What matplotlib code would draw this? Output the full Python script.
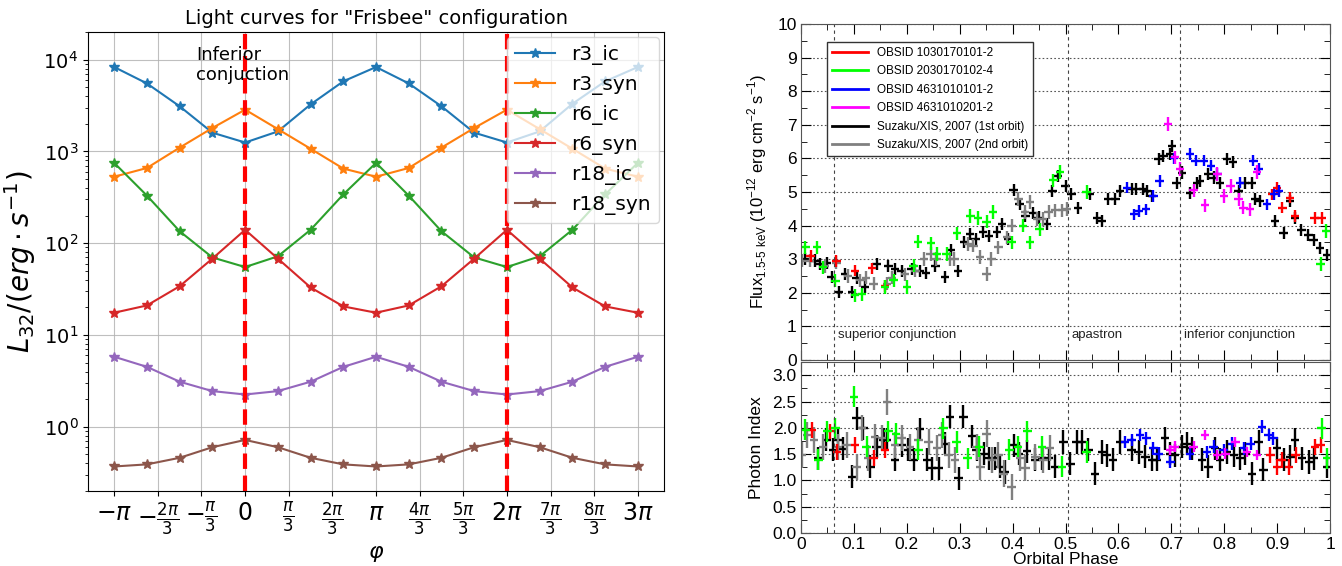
import numpy as np
import matplotlib
matplotlib.use('Agg')
import matplotlib.pyplot as plt
from matplotlib.lines import Line2D
from matplotlib.ticker import MultipleLocator, LogLocator

# ---------------- left panel: light curves ----------------
quarters = [-4, -3, -2, -1, 0, 1, 2, 3, 4, 5, 6, 7, 8, 9, 10, 11, 12]  # phi in units of pi/4
r3_ic = [8300, 5500, 3100, 1600, 1250, 1650, 3250, 5800, 8300, 5500, 3100, 1600, 1250, 1650, 3300, 5800, 8300]
r3_syn = [530, 660, 1100, 1800, 2850, 1750, 1070, 650, 530, 660, 1100, 1800, 2850, 1750, 1070, 650, 530]
r6_ic = [750, 330, 135, 70, 55, 72, 140, 340, 750, 330, 135, 70, 55, 72, 140, 340, 750]
r6_syn = [17.5, 21, 34, 68, 140, 68, 33, 20.5, 17.5, 21, 34, 68, 140, 68, 33, 20.5, 17.5]
r18_ic = [5.8, 4.5, 3.1, 2.45, 2.25, 2.45, 3.1, 4.5, 5.8, 4.5, 3.1, 2.45, 2.25, 2.45, 3.1, 4.5, 5.8]
r18_syn = [0.37, 0.39, 0.46, 0.6, 0.72, 0.6, 0.46, 0.39, 0.37, 0.39, 0.46, 0.6, 0.72, 0.6, 0.46, 0.39, 0.37]
series_names = ['r3_ic', 'r3_syn', 'r6_ic', 'r6_syn', 'r18_ic', 'r18_syn']

tick_thirds = [-3, -2, -1, 0, 1, 2, 3, 4, 5, 6, 7, 8, 9]
tick_labels = [r'$-\pi$', r'$-\frac{2\pi}{3}$', r'$-\frac{\pi}{3}$', r'$0$', r'$\frac{\pi}{3}$',
               r'$\frac{2\pi}{3}$', r'$\pi$', r'$\frac{4\pi}{3}$', r'$\frac{5\pi}{3}$', r'$2\pi$',
               r'$\frac{7\pi}{3}$', r'$\frac{8\pi}{3}$', r'$3\pi$']

# ---------------- right panel: X-ray data ----------------
blk_ph = [0.008, 0.026, 0.036, 0.049, 0.058, 0.071, 0.083, 0.096, 0.105, 0.121, 0.143, 0.165, 0.178, 0.19,
          0.209, 0.225, 0.236, 0.254, 0.272, 0.283, 0.297, 0.308, 0.319, 0.33, 0.344, 0.355, 0.37, 0.38,
          0.391, 0.402, 0.413, 0.424, 0.438, 0.449, 0.464, 0.475, 0.486, 0.5, 0.511, 0.524, 0.546, 0.559,
          0.568, 0.581, 0.594, 0.603, 0.625, 0.634, 0.647, 0.654, 0.663, 0.676, 0.685, 0.698, 0.701, 0.71,
          0.72, 0.735, 0.748, 0.754, 0.77, 0.78, 0.792, 0.805, 0.817, 0.827, 0.839, 0.852, 0.858, 0.868,
          0.896, 0.912, 0.924, 0.934, 0.946, 0.959, 0.969, 0.981, 0.994]
blk_flux = [3.0, 2.96, 2.86, 2.88, 2.47, 2.02, 2.56, 2.02, 2.45, 2.17, 2.86, 2.81, 2.71, 2.66,
            2.71, 2.66, 2.6, 2.8, 2.48, 3.28, 2.64, 3.5, 3.75, 3.6, 3.8, 3.7, 3.8, 4.05,
            3.6, 5.07, 4.63, 4.28, 4.38, 4.24, 4.04, 5.02, 5.47, 5.17, 4.93, 4.53, 4.93, 4.23,
            4.13, 4.78, 4.78, 5.03, 5.08, 5.08, 5.08, 5.03, 4.88, 5.98, 6.08, 6.13, 6.38, 5.28,
            5.58, 4.98, 5.28, 5.33, 5.53, 5.43, 5.28, 5.98, 5.88, 5.03, 5.28, 5.28, 4.78, 4.73,
            4.13, 3.78, 4.73, 4.23, 3.88, 3.73, 3.58, 3.33, 3.13]
gry_ph = [0.001, 0.017, 0.045, 0.067, 0.089, 0.112, 0.123, 0.137, 0.162, 0.172, 0.197, 0.216, 0.232, 0.245,
          0.256, 0.282, 0.29, 0.316, 0.326, 0.338, 0.351, 0.36, 0.373, 0.389, 0.398, 0.411, 0.423, 0.433,
          0.446, 0.457, 0.468, 0.481, 0.493, 0.502]
gry_flux = [2.96, 2.96, 2.8, 2.9, 2.5, 2.37, 2.45, 2.27, 2.27, 2.45, 2.55, 2.66, 3.0, 3.15,
            3.0, 3.0, 3.0, 3.45, 3.4, 3.06, 2.56, 3.0, 3.35, 3.65, 4.0, 4.79, 4.4, 4.7,
            4.2, 4.19, 4.4, 4.45, 4.45, 4.5]
grn_ph = [0.008, 0.03, 0.042, 0.065, 0.102, 0.115, 0.159, 0.175, 0.2, 0.213, 0.221, 0.246, 0.257, 0.275,
          0.295, 0.32, 0.335, 0.351, 0.363, 0.398, 0.42, 0.433, 0.451, 0.477, 0.49, 0.54, 0.982, 0.993]
grn_flux = [3.35, 3.35, 2.76, 2.36, 1.92, 1.95, 2.17, 2.37, 2.17, 2.81, 3.52, 3.47, 3.15, 3.15,
            3.77, 4.28, 4.22, 4.12, 4.4, 3.5, 4.0, 3.5, 3.89, 5.35, 5.6, 5.0, 2.86, 3.84]
red_ph = [0.018, 0.067, 0.102, 0.134, 0.159, 0.89, 0.9, 0.91, 0.924, 0.934, 0.971, 0.984]
red_flux = [3.1, 2.95, 2.66, 2.73, 2.2, 4.93, 5.13, 4.53, 4.83, 4.28, 4.23, 4.23]
blu_ph = [0.616, 0.63, 0.639, 0.652, 0.666, 0.678, 0.705, 0.735, 0.746, 0.762, 0.775, 0.787, 0.83, 0.855,
          0.865, 0.881, 0.894, 0.903]
blu_flux = [5.13, 4.33, 4.43, 4.48, 4.88, 5.33, 6.0, 6.13, 5.93, 5.93, 5.78, 5.53, 5.28, 5.93,
            5.68, 4.63, 4.93, 5.03]
mag_ph = [0.694, 0.707, 0.716, 0.742, 0.764, 0.787, 0.8, 0.812, 0.827, 0.836, 0.849, 0.862]
mag_flux = [7.03, 6.03, 5.68, 5.05, 4.6, 5.53, 4.88, 5.18, 4.78, 4.53, 4.48, 5.6]

blk_iph = [0.033, 0.048, 0.06, 0.07, 0.08, 0.096, 0.105, 0.118, 0.131, 0.143, 0.156, 0.162, 0.178, 0.19,
           0.203, 0.213, 0.225, 0.238, 0.247, 0.26, 0.272, 0.282, 0.298, 0.307, 0.323, 0.332, 0.345, 0.355,
           0.367, 0.376, 0.386, 0.402, 0.412, 0.427, 0.443, 0.455, 0.468, 0.48, 0.496, 0.509, 0.521, 0.531,
           0.543, 0.556, 0.569, 0.578, 0.59, 0.603, 0.625, 0.638, 0.651, 0.663, 0.673, 0.688, 0.698, 0.707,
           0.72, 0.729, 0.739, 0.758, 0.77, 0.783, 0.792, 0.805, 0.818, 0.83, 0.84, 0.852, 0.865, 0.874,
           0.9, 0.912, 0.925, 0.934, 0.947, 0.96, 0.969, 0.994]
blk_idx = [1.42, 1.77, 1.58, 1.77, 1.6, 1.07, 2.18, 1.99, 1.26, 1.64, 1.77, 1.77, 1.39, 1.67,
           1.58, 1.39, 1.97, 1.39, 1.23, 1.23, 1.7, 2.21, 1.04, 2.21, 1.84, 1.58, 1.51, 1.42,
           1.42, 1.26, 1.16, 1.67, 1.51, 1.55, 1.39, 1.42, 1.42, 1.26, 1.73, 1.32, 1.73, 1.73,
           1.58, 1.13, 1.54, 1.48, 1.39, 1.73, 1.58, 1.54, 1.45, 1.39, 1.39, 1.8, 1.51, 1.48,
           1.64, 1.7, 1.61, 1.39, 1.26, 1.61, 1.39, 1.54, 1.48, 1.42, 1.51, 1.13, 1.73, 1.2,
           1.61, 1.39, 1.45, 1.77, 1.42, 1.35, 1.42, 1.26]
gry_iph = [0.001, 0.011, 0.024, 0.042, 0.07, 0.086, 0.105, 0.115, 0.127, 0.14, 0.153, 0.162, 0.178, 0.19,
           0.206, 0.222, 0.241, 0.257, 0.266, 0.279, 0.291, 0.332, 0.339, 0.351, 0.361, 0.373, 0.383, 0.398,
           0.414, 0.424, 0.443, 0.458, 0.47]
gry_idx = [1.48, 1.86, 1.77, 1.64, 1.64, 1.67, 1.26, 1.99, 1.42, 1.83, 1.8, 2.49, 1.67, 1.8,
           1.64, 1.77, 1.73, 1.61, 1.86, 1.48, 1.39, 1.64, 1.26, 1.89, 1.39, 1.48, 1.13, 0.88,
           1.42, 1.23, 1.45, 1.39, 1.61]
grn_iph = [0.008, 0.033, 0.05, 0.065, 0.1, 0.124, 0.165, 0.18, 0.222, 0.269, 0.294, 0.315, 0.337, 0.394,
           0.41, 0.428, 0.455, 0.493, 0.54, 0.984, 0.994]
grn_idx = [1.96, 1.39, 1.93, 1.99, 2.59, 1.64, 1.93, 1.89, 1.58, 1.99, 1.73, 1.42, 1.64, 1.58,
           1.64, 1.93, 1.64, 1.26, 1.54, 1.99, 1.42]
red_iph = [0.02, 0.055, 0.068, 0.102, 0.137, 0.159, 0.887, 0.9, 0.909, 0.922, 0.935, 0.972, 0.982]
red_idx = [1.96, 1.93, 1.54, 1.67, 1.42, 1.58, 1.48, 1.26, 1.39, 1.26, 1.48, 1.64, 1.67]
blu_iph = [0.612, 0.625, 0.641, 0.653, 0.666, 0.676, 0.698, 0.735, 0.767, 0.78, 0.799, 0.815, 0.837, 0.85,
           0.871, 0.884, 0.893]
blu_idx = [1.73, 1.77, 1.86, 1.8, 1.61, 1.51, 1.35, 1.51, 1.54, 1.64, 1.58, 1.7, 1.61, 1.7,
           2.02, 1.86, 1.8]
mag_iph = [0.698, 0.707, 0.742, 0.764, 0.786, 0.802, 0.821, 0.843, 0.862]
mag_idx = [1.58, 1.64, 1.64, 1.86, 1.48, 1.51, 1.73, 1.54, 1.48]

obs_labels = ['OBSID 1030170101-2', 'OBSID 2030170102-4', 'OBSID 4631010101-2',
              'OBSID 4631010201-2', 'Suzaku/XIS, 2007 (1st orbit)', 'Suzaku/XIS, 2007 (2nd orbit)']
obs_colors = ['#ff0000', '#00ff00', '#0000ff', '#ff00ff', '#000000', '#808080']
phase_marks = [0.062, 0.504, 0.717]
phase_names = ['superior conjunction', 'apastron', 'inferior conjunction']

fig = plt.figure(figsize=(13.42, 5.66), dpi=100)

# ---- left ----
ax = fig.add_axes([0.0656, 0.1325, 0.4292, 0.811])
phi = np.pi / 4 * np.array(quarters)
for name, vals in zip(series_names, [r3_ic, r3_syn, r6_ic, r6_syn, r18_ic, r18_syn]):
    ax.plot(phi, vals, marker='*', markersize=7, lw=1.5, label=name)
ax.set_yscale('log')
ax.set_ylim(0.2, 2e4)
ax.set_xlim(-np.pi * 1.2, np.pi * 3.2)
ax.axvline(0, color='red', ls='--', lw=3)
ax.axvline(2 * np.pi, color='red', ls='--', lw=3)
ax.set_xticks(np.pi / 3 * np.array(tick_thirds))
ax.set_xticklabels(tick_labels, fontsize=17)
ax.yaxis.set_major_locator(LogLocator(base=10, numticks=10))
ax.tick_params(axis='y', labelsize=14)
ax.grid(True, which='major', color='#b0b0b0', lw=0.8, alpha=0.8)
ax.text(-1.18, 1.4e4, 'Inferior\nconjuction', fontsize=13, va='top', ha='left', linespacing=1.1)
ax.set_title('Light curves for "Frisbee" configuration', fontsize=14)
ax.set_xlabel(r'$\varphi$', fontsize=16)
ax.set_ylabel(r'$L_{32}/(erg\cdot s^{-1})$', fontsize=20)
ax.legend(loc='upper right', fontsize=14.5, handlelength=2.0, borderaxespad=0.25, framealpha=0.75)

# ---- right ----
sans = ['Liberation Sans', 'DejaVu Sans']
ax1 = fig.add_axes([0.5969, 0.364, 0.3942, 0.5936])
ax2 = fig.add_axes([0.5969, 0.0583, 0.3942, 0.302])

flux_sets = [(red_ph, red_flux), (grn_ph, grn_flux), (blu_ph, blu_flux), (mag_ph, mag_flux),
             (blk_ph, blk_flux), (gry_ph, gry_flux)]
idx_sets = [(red_iph, red_idx), (grn_iph, grn_idx), (blu_iph, blu_idx), (mag_iph, mag_idx),
            (blk_iph, blk_idx), (gry_iph, gry_idx)]
flux_err = [0.17, 0.2, 0.17, 0.2, 0.18, 0.2]
idx_err = [0.15, 0.2, 0.12, 0.1, 0.22, 0.25]
draw_order = [4, 5, 0, 1, 2, 3]
for i in draw_order:
    ph, fl = flux_sets[i]
    ax1.errorbar(ph, fl, xerr=0.008, yerr=flux_err[i], fmt='none', ecolor=obs_colors[i], elinewidth=1.7)
    ph, ix = idx_sets[i]
    ax2.errorbar(ph, ix, xerr=0.008, yerr=idx_err[i], fmt='none', ecolor=obs_colors[i], elinewidth=1.7)

for a, top, step in [(ax1, 10, 1), (ax2, 3.25, 0.5)]:
    a.set_xlim(0, 1)
    a.set_ylim(0, top)
    a.xaxis.set_major_locator(MultipleLocator(0.1))
    a.xaxis.set_minor_locator(MultipleLocator(0.05))
    a.yaxis.set_major_locator(MultipleLocator(step))
    a.yaxis.set_minor_locator(MultipleLocator(step / 2))
    a.tick_params(which='both', direction='in', top=True, right=True, labelsize=12.5, pad=3)
    a.tick_params(which='major', length=7)
    a.tick_params(which='minor', length=4)
    a.yaxis.grid(True, which='major', ls=(0, (1.5, 2)), color='#555555', lw=0.8)
    for xm in phase_marks:
        a.axvline(xm, color='#444444', ls=(0, (3, 3)), lw=0.8)
    for lab in a.get_xticklabels() + a.get_yticklabels():
        lab.set_family(sans)
    for sp in a.spines.values():
        sp.set_color('#555555')
ax1.tick_params(labelbottom=False)
ax2.set_xticks([0, 0.1, 0.2, 0.3, 0.4, 0.5, 0.6, 0.7, 0.8, 0.9, 1])
ax2.set_xticklabels(['0', '0.1', '0.2', '0.3', '0.4', '0.5', '0.6', '0.7', '0.8', '0.9', '1'],
                    family=sans, fontsize=12.5)

for xm, name in zip(phase_marks, phase_names):
    ax1.text(xm + 0.007, 0.75, name, fontsize=9.5, family=sans, va='center', color='#222222')

ax1.set_ylabel(r'Flux$_{\mathregular{1.5\text{-}5\ keV}}$ (10$^{\mathregular{-12}}$ erg cm$^{\mathregular{-2}}$ s$^{\mathregular{-1}}$)',
               fontsize=12, family=sans, labelpad=6)
ax2.set_ylabel('Photon Index', fontsize=12.5, family=sans, labelpad=6)
ax2.set_xlabel('Orbital Phase', fontsize=12.5, family=sans, labelpad=0)

handles = [Line2D([], [], color=c, lw=2) for c in obs_colors]
leg = ax1.legend(handles, obs_labels, loc='upper left', bbox_to_anchor=(0.05, 0.946),
                 prop={'family': sans, 'size': 8.5}, handlelength=3.0, fancybox=False,
                 edgecolor='#333333', framealpha=1, borderaxespad=0, labelspacing=0.55)

fig.savefig('out.png', dpi=100)
